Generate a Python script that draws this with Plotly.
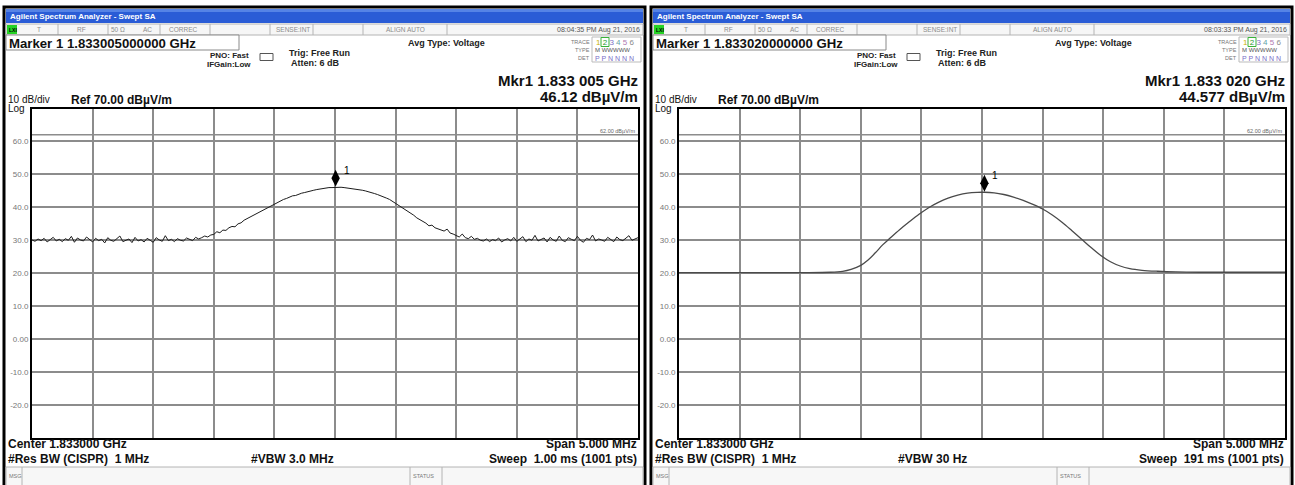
import numpy as np
import plotly.graph_objects as go

W, H = 1295, 485
FONT = "Liberation Sans, Arial, sans-serif"

# ---------------- data ----------------
CENTER_MHZ = 1833.0
SPAN_MHZ = 5.0
REF_LEVEL_DB = 70.0
DB_PER_DIV = 10.0
N_DIV = 10
DISPLAY_LINE_DB = 62.0

Y_TICK_VALUES = [70, 60, 50, 40, 30, 20, 10, 0, -10, -20, -30]
Y_TICK_LABELS = ["", "60.0", "50.0", "40.0", "30.0", "20.0", "10.0", "0.00", "-10.0", "-20.0", ""]

# left screen: VBW 3 MHz, noisy trace (sampled every 25 kHz across the span)
LEFT_TRACE_DB = [
    30.1, 29.7, 30.4, 29.9, 30.6, 29.5, 30.2, 30.9, 29.8, 30.3,
    29.6, 30.5, 30.0, 31.2, 29.4, 30.7, 30.1, 29.8, 31.0, 30.2,
    29.5, 30.6, 29.9, 30.3, 29.2, 30.8, 30.0, 29.7, 30.5, 31.3,
    29.6, 30.1, 30.4, 29.3, 30.9, 29.8, 30.2, 29.5, 30.6, 30.0,
    29.4, 30.8, 30.1, 29.7, 31.4, 29.9, 30.3, 29.6, 30.5, 30.0,
    29.8, 30.7, 30.2, 29.9, 30.9, 30.4, 30.8, 31.3, 31.0, 31.6,
    31.8, 32.6, 32.3, 33.1, 33.0, 33.8, 34.2, 34.1, 35.0, 35.3,
    36.1, 36.6, 37.0, 37.6, 38.0, 38.5, 39.1, 39.6, 40.0, 40.6,
    41.1, 41.5, 41.9, 42.4, 42.7, 43.1, 43.5, 43.6, 44.0, 44.3,
    44.5, 44.8, 45.0, 45.2, 45.4, 45.6, 45.7, 45.9, 46.0, 46.0,
    46.1, 46.0, 46.1, 46.0, 45.9, 45.8, 45.7, 45.5, 45.4, 45.2,
    45.0, 44.8, 44.5, 44.2, 43.9, 43.6, 43.2, 42.8, 42.4, 41.8,
    41.3, 40.8, 40.1, 39.5, 38.9, 38.2, 37.6, 36.8, 36.3, 35.6,
    35.2, 34.4, 34.6, 33.8, 33.5, 33.0, 32.8, 33.4, 32.2, 31.9,
    31.5, 31.0, 31.9, 30.8, 30.5, 31.2, 30.3, 30.6, 30.0, 29.8,
    30.4, 29.6, 30.2, 29.9, 30.7, 29.5, 30.1, 30.5, 29.8, 30.9,
    29.7, 30.3, 31.1, 29.6, 30.4, 30.0, 31.5, 29.8, 30.2, 30.7,
    29.5, 30.9, 30.1, 29.7, 31.3, 30.0, 29.6, 30.8, 30.3, 29.9,
    31.2, 30.0, 29.4, 30.6, 30.2, 31.6, 29.8, 30.4, 30.1, 29.7,
    30.9, 30.3, 29.6, 31.0, 30.2, 29.9, 30.7, 31.4, 30.0, 30.5, 30.8,
]

# right screen: VBW 30 Hz, smooth trace
RIGHT_TRACE_OFFSET_MHZ = [-2.5, -2.0, -1.5, -1.25, -1.15, -1.08, -1.0, -0.94, -0.88, -0.82,
                          -0.76, -0.68, -0.6, -0.52, -0.44, -0.36, -0.28, -0.2, -0.12, -0.04,
                          0.02, 0.1, 0.18, 0.26, 0.34, 0.42, 0.5, 0.58, 0.66, 0.74,
                          0.82, 0.9, 0.98, 1.06, 1.14, 1.22, 1.32, 1.45, 1.6, 1.8,
                          2.1, 2.5]
RIGHT_TRACE_DB = [20.2, 20.2, 20.2, 20.3, 20.6, 21.2, 22.4, 24.0, 26.2, 28.6,
                  30.6, 33.2, 35.6, 37.9, 39.9, 41.5, 42.8, 43.7, 44.3, 44.55,
                  44.577, 44.4, 43.9, 43.1, 42.1, 40.9, 39.5, 37.7, 35.5, 33.0,
                  30.4, 27.8, 25.4, 23.5, 22.2, 21.4, 20.9, 20.6, 20.4, 20.3,
                  20.3, 20.3]

LEFT_MARKER_MHZ, LEFT_MARKER_DB = 1833.005, 46.12
RIGHT_MARKER_MHZ, RIGHT_MARKER_DB = 1833.020, 44.577

LEFT_TEXT = dict(marker="Marker 1 1.833005000000 GHz", time="08:04:35 PM Aug 21, 2016",
                 mkr1="Mkr1 1.833 005 GHz", mkr2="46.12 dBµV/m",
                 vbw="#VBW 3.0 MHz", sweep="Sweep  1.00 ms (1001 pts)")
RIGHT_TEXT = dict(marker="Marker 1 1.833020000000 GHz", time="08:03:33 PM Aug 21, 2016",
                  mkr1="Mkr1 1.833 020 GHz", mkr2="44.577 dBµV/m",
                  vbw="#VBW 30 Hz", sweep="Sweep  191 ms (1001 pts)")

# ---------------- layout geometry (pixels) ----------------
PLOT_TOP, PLOT_BOTTOM = 108.5, 438.0
LEFT_PLOT_X = (32.0, 638.0)
WIN_OFFSET = 647
PX_PER_DB = (PLOT_BOTTOM - PLOT_TOP) / (N_DIV * DB_PER_DIV)
MARKER_LIFT_PX = 9

shapes, annotations = [], []


def rect(x0, y0, x1, y1, fill=None, line=None, lw=1, layer="below"):
    shapes.append(dict(type="rect", xref="paper", yref="paper",
                       x0=x0 / W, x1=x1 / W, y0=1 - y1 / H, y1=1 - y0 / H,
                       fillcolor=fill if fill else "rgba(0,0,0,0)",
                       line=dict(color=line if line else "rgba(0,0,0,0)", width=lw if line else 0),
                       layer=layer))


def seg(x0, y0, x1, y1, color, lw=1):
    shapes.append(dict(type="line", xref="paper", yref="paper",
                       x0=x0 / W, x1=x1 / W, y0=1 - y0 / H, y1=1 - y1 / H,
                       line=dict(color=color, width=lw), layer="below"))


def text(x, y, s, size, color="black", bold=False, xanchor="left"):
    annotations.append(dict(xref="paper", yref="paper", x=x / W, y=1 - y / H,
                            text=f"<b>{s}</b>" if bold else s, showarrow=False,
                            xanchor=xanchor, yanchor="middle", borderpad=0,
                            font=dict(size=size, color=color, family=FONT)))


def draw_window(ox, info):
    # outer frame
    rect(ox + 4, 7, ox + 645, 492, fill="white", line="black", lw=3)
    # title bar
    rect(ox + 6, 9, ox + 643, 23, fill="#2a5cd6")
    rect(ox + 6, 9, ox + 643, 12, fill="#5583e6")
    text(ox + 9, 16.5, "Agilent Spectrum Analyzer - Swept SA", 8, "white", bold=True)
    # status row
    rect(ox + 6, 24, ox + 643, 35, fill="#f6f6f6", line="#b4b4b4", lw=1)
    rect(ox + 7, 25, ox + 17, 34, fill="#25d325")
    text(ox + 8, 29.5, "<b>LXI</b>", 5, "black")
    for d in [58, 108, 160, 210, 270, 313, 363, 447]:
        seg(ox + d, 24, ox + d, 35, "#b4b4b4", 1)
    for lab, cx in [("T", 39), ("RF", 81), ("50 Ω", 118), ("AC", 147), ("CORREC", 183),
                    ("SENSE:INT", 293), ("ALIGN AUTO", 405)]:
        text(ox + cx, 29.5, lab, 6.5, "#8c8c8c", xanchor="center")
    text(ox + 641, 29.5, info["time"], 7, "#555555", xanchor="right")
    # marker entry box
    rect(ox + 6, 35, ox + 239, 50, fill="white", line="#8a8a8a", lw=1)
    text(ox + 8, 43, info["marker"], 13.2, "#111111", bold=True)
    # settings
    text(ox + 209, 55, "PNO: Fast", 8, "#222222", bold=True)
    text(ox + 206, 64.5, "IFGain:Low", 8, "#222222", bold=True)
    rect(ox + 260, 53.5, ox + 273, 60.5, line="#555555", lw=1)
    text(ox + 288, 53, "Trig: Free Run", 9, "#222222", bold=True)
    text(ox + 290, 63.5, "Atten: 6 dB", 9, "#222222", bold=True)
    text(ox + 407, 42.5, "Avg Type: Voltage", 9, "#222222", bold=True)
    # trace table
    text(ox + 591, 42, "TRACE", 5.5, "#777777", xanchor="right")
    text(ox + 591, 50, "TYPE", 5.5, "#777777", xanchor="right")
    text(ox + 591, 58, "DET", 5.5, "#777777", xanchor="right")
    rect(ox + 592, 37, ox + 641, 62, line="#bbbbbb", lw=1)
    rect(ox + 601, 37.5, ox + 609, 46.5, line="#39b339", lw=1)
    digits = ('<span style="color:#c8b000">1</span> <span style="color:#2e9a2e">2</span> '
              '<span style="color:#7a6fc8">3</span> <span style="color:#5f9fa8">4</span> '
              '<span style="color:#b07ab0">5</span> <span style="color:#8a8a8a">6</span>')
    text(ox + 595, 42, digits, 8)
    text(ox + 594, 50.5, "M WWWWW", 6, "#555555")
    text(ox + 594, 58.5, "P P N N N N", 7, "#7a6fc8")
    # marker readout
    text(ox + 639, 80.5, info["mkr1"], 15, "#111111", bold=True, xanchor="right")
    text(ox + 639, 97, info["mkr2"], 15, "#111111", bold=True, xanchor="right")
    # scale
    text(ox + 7, 100, "10 dB/div", 10, "#111111")
    text(ox + 7, 108, "Log", 10, "#111111")
    text(ox + 70, 100, "Ref 70.00 dBµV/m", 12, "#111111", bold=True)
    text(ox + 636, 131, "62.00 dBµV/m", 5.5, "#666666", xanchor="right")
    # bottom annotation
    text(ox + 7, 444, "Center 1.833000 GHz", 12, "#111111", bold=True)
    text(ox + 7, 458.5, "#Res BW (CISPR)  1 MHz", 12, "#111111", bold=True)
    text(ox + 250, 458.5, info["vbw"], 12, "#111111", bold=True)
    text(ox + 638, 444, "Span 5.000 MHz", 12, "#111111", bold=True, xanchor="right")
    text(ox + 638, 458.5, info["sweep"], 12, "#111111", bold=True, xanchor="right")
    # message bar
    rect(ox + 6, 467, ox + 643, 490, fill="#f7f7f7", line="#b4b4b4", lw=1)
    seg(ox + 22, 467, ox + 22, 490, "#b4b4b4", 1)
    seg(ox + 410, 467, ox + 410, 490, "#b4b4b4", 1)
    seg(ox + 442, 467, ox + 442, 490, "#b4b4b4", 1)
    text(ox + 8, 476, "MSG", 5.5, "#777777")
    text(ox + 412, 476, "STATUS", 5.5, "#777777")


draw_window(0, LEFT_TEXT)
draw_window(WIN_OFFSET, RIGHT_TEXT)

# ---------------- traces ----------------
f_lo, f_hi = CENTER_MHZ - SPAN_MHZ / 2, CENTER_MHZ + SPAN_MHZ / 2
left_freq = np.linspace(f_lo, f_hi, len(LEFT_TRACE_DB))
right_freq = [CENTER_MHZ + o for o in RIGHT_TRACE_OFFSET_MHZ]
lift_db = MARKER_LIFT_PX / PX_PER_DB

fig = go.Figure()
fig.add_trace(go.Scatter(x=left_freq, y=LEFT_TRACE_DB, mode="lines", xaxis="x", yaxis="y",
                         line=dict(color="#1c1c1c", width=1), hoverinfo="skip"))
fig.add_trace(go.Scatter(x=right_freq, y=RIGHT_TRACE_DB, mode="lines", xaxis="x2", yaxis="y2",
                         line=dict(color="#4a4a4a", width=1.3, shape="spline", smoothing=1.0),
                         hoverinfo="skip"))
for xa, ya, mx, my in [("x", "y", LEFT_MARKER_MHZ, LEFT_MARKER_DB),
                       ("x2", "y2", RIGHT_MARKER_MHZ, RIGHT_MARKER_DB)]:
    fig.add_trace(go.Scatter(x=[mx], y=[my + lift_db], mode="markers", xaxis=xa, yaxis=ya,
                             marker=dict(symbol="diamond-tall", size=12, color="black"),
                             hoverinfo="skip"))
    annotations.append(dict(xref=xa, yref=ya, x=mx, y=my, text="1", showarrow=False,
                            xanchor="left", yanchor="middle", xshift=6, yshift=17,
                            font=dict(size=10, color="#000000", family=FONT)))
    shapes.append(dict(type="line", xref=f"{xa} domain", yref=ya, x0=0, x1=1,
                       y0=DISPLAY_LINE_DB, y1=DISPLAY_LINE_DB,
                       line=dict(color="#8c8c8c", width=1.5), layer="below"))


def xaxis_cfg(x0px, x1px):
    return dict(domain=[x0px / W, x1px / W], range=[f_lo, f_hi], tick0=f_lo,
                dtick=SPAN_MHZ / N_DIV, showticklabels=False, ticks="",
                showgrid=True, gridcolor="#8c8c8c", gridwidth=1.6, zeroline=False,
                showline=True, linecolor="black", linewidth=2, mirror=True, fixedrange=True)


def yaxis_cfg():
    return dict(domain=[1 - PLOT_BOTTOM / H, 1 - PLOT_TOP / H],
                range=[REF_LEVEL_DB - N_DIV * DB_PER_DIV, REF_LEVEL_DB],
                tickmode="array", tickvals=Y_TICK_VALUES, ticktext=Y_TICK_LABELS,
                ticks="", tickfont=dict(size=8, color="#777777", family=FONT),
                showgrid=True, gridcolor="#8c8c8c", gridwidth=1.6, zeroline=False,
                showline=True, linecolor="black", linewidth=2, mirror=True, fixedrange=True)


fig.update_layout(
    width=W, height=H, autosize=False,
    margin=dict(l=0, r=0, t=0, b=0, pad=0),
    paper_bgcolor="white", plot_bgcolor="white",
    showlegend=False,
    xaxis=dict(**xaxis_cfg(*LEFT_PLOT_X), anchor="y"),
    xaxis2=dict(**xaxis_cfg(LEFT_PLOT_X[0] + WIN_OFFSET, LEFT_PLOT_X[1] + WIN_OFFSET), anchor="y2"),
    yaxis=dict(**yaxis_cfg(), anchor="x"),
    yaxis2=dict(**yaxis_cfg(), anchor="x2"),
    shapes=shapes,
    annotations=annotations,
)

fig.write_html("out.html", config={"displayModeBar": False},
               post_script="document.body.style.margin='0';document.body.style.overflow='hidden';")
